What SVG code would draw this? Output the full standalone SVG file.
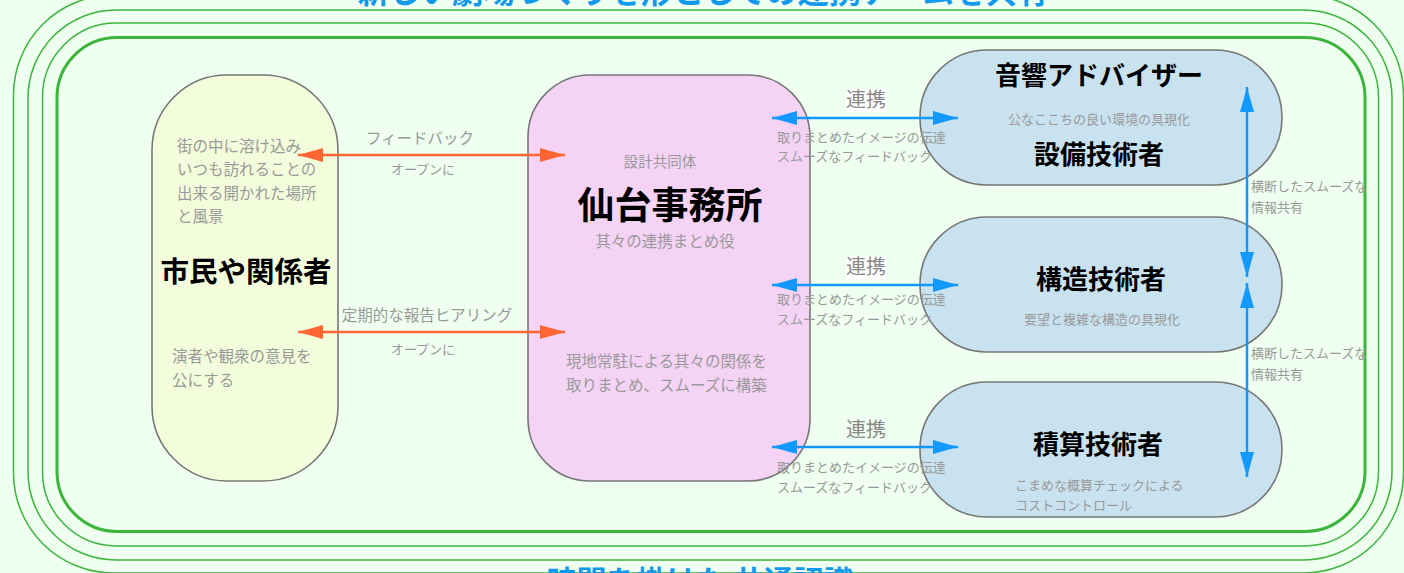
<svg xmlns="http://www.w3.org/2000/svg" width="1404" height="573" viewBox="0 0 1404 573">
<defs>
<style>
text{font-family:"Noto Sans CJK JP","Noto Sans",sans-serif;}
.frame{fill:none;stroke:#3db53d;stroke-width:1.5;}
.frameThick{fill:#effff0;stroke:#3db53d;stroke-width:3;}
.node{stroke:#777;stroke-width:1.6;}
.title{font-weight:bold;fill:#000;text-anchor:middle;}
.note{fill:#999;font-size:15.5px;}
.small{fill:#999;font-size:13px;}
.mid{text-anchor:middle;}
.big{fill:#1199ee;font-weight:bold;font-size:30px;text-anchor:middle;}
.orange{stroke:#ff6633;stroke-width:2.5;fill:none;marker-start:url(#oa);marker-end:url(#oa);}
.blue{stroke:#1199ff;stroke-width:2.5;fill:none;marker-start:url(#ba);marker-end:url(#ba);}
.link{fill:#888;font-size:20px;text-anchor:middle;}
</style>
<marker id="oa" markerUnits="userSpaceOnUse" markerWidth="26" markerHeight="16" refX="25" refY="7" orient="auto-start-reverse"><path d="M0,0 L25,7 L0,14 z" fill="#ff6633"/></marker>
<marker id="ba" markerUnits="userSpaceOnUse" markerWidth="26" markerHeight="16" refX="25" refY="7" orient="auto-start-reverse"><path d="M0,0 L25,7 L0,14 z" fill="#1199ff"/></marker>
</defs>
<rect width="1404" height="573" fill="#effff0"/>
<g id="frames">
<rect class="frame" x="13.5" y="-5" width="1390" height="578" rx="100" ry="100"/>
<rect class="frame" x="28" y="10" width="1364" height="550" rx="88" ry="88"/>
<rect class="frame" x="42.5" y="23" width="1336" height="523" rx="74" ry="74"/>
<rect class="frameThick" x="57" y="37.5" width="1308" height="494" rx="60" ry="60"/>
</g>
<text class="big" x="703" y="3" style="font-size:31.5px">新しい劇場づくりを形としての連携チームを共有</text>
<text class="big" x="700" y="592">時間を掛けた 共通認識</text>
<g id="node-citizens">
<rect class="node" x="152" y="75" width="186" height="406" rx="75" ry="75" fill="#f3fddb"/>
<text class="note" x="177" y="152">街の中に溶け込み</text>
<text class="note" x="177" y="175">いつも訪れることの</text>
<text class="note" x="177" y="199">出来る開かれた場所</text>
<text class="note" x="177" y="222">と風景</text>
<text class="title" x="246" y="282" font-size="28.5">市民や関係者</text>
<text class="note" x="172" y="362">演者や観衆の意見を</text>
<text class="note" x="172" y="386">公にする</text>
</g>
<g id="node-sendai">
<rect class="node" x="528" y="75" width="282" height="406" rx="62" ry="62" fill="#f4d3f4"/>
<text class="small mid" x="660" y="167" style="font-size:14.5px">設計共同体</text>
<text class="title" x="670" y="219" font-size="37">仙台事務所</text>
<text class="note mid" x="665" y="247">其々の連携まとめ役</text>
<text class="note" x="566" y="367">現地常駐による其々の関係を</text>
<text class="note" x="566" y="391">取りまとめ、スムーズに構築</text>
</g>
<g id="node-acoustic">
<rect class="node" x="920" y="50" width="362" height="135" rx="67" ry="67" fill="#c9e2ef"/>
<text class="title" x="1099" y="85" font-size="26">音響アドバイザー</text>
<text class="small mid" x="1099" y="124">公なここちの良い環境の具現化</text>
<text class="title" x="1099" y="164" font-size="26">設備技術者</text>
</g>
<g id="node-structure">
<rect class="node" x="920" y="217" width="362" height="135" rx="67" ry="67" fill="#c9e2ef"/>
<text class="title" x="1101" y="289" font-size="26">構造技術者</text>
<text class="small mid" x="1102" y="324">要望と複雑な構造の具現化</text>
</g>
<g id="node-cost">
<rect class="node" x="920" y="382" width="362" height="135" rx="67" ry="67" fill="#c9e2ef"/>
<text class="title" x="1098" y="454" font-size="26">積算技術者</text>
<text class="small" x="1015" y="490">こまめな概算チェックによる</text>
<text class="small" x="1015" y="510">コストコントロール</text>
</g>
<g id="connectors">
<line class="orange" x1="298" y1="155" x2="565" y2="155"/>
<line class="orange" x1="298" y1="332" x2="565" y2="332"/>
<line class="blue" x1="772" y1="118" x2="958" y2="118"/>
<line class="blue" x1="772" y1="285" x2="958" y2="285"/>
<line class="blue" x1="772" y1="447" x2="958" y2="447"/>
<line class="blue" x1="1247" y1="87" x2="1247" y2="277"/>
<line class="blue" x1="1247" y1="283" x2="1247" y2="477"/>
<text class="note mid" x="420" y="144">フィードバック</text>
<text class="small mid" x="423" y="174">オープンに</text>
<text class="note mid" x="427" y="321">定期的な報告ヒアリング</text>
<text class="small mid" x="423" y="354">オープンに</text>
<rect x="846" y="89" width="41" height="23" fill="#fff"/>
<text class="link" x="866" y="107">連携</text>
<text class="small" x="777" y="142">取りまとめたイメージの伝達</text>
<text class="small" x="777" y="161">スムーズなフィードバック</text>
<rect x="846" y="256" width="41" height="23" fill="#fff"/>
<text class="link" x="866" y="274">連携</text>
<text class="small" x="777" y="304">取りまとめたイメージの伝達</text>
<text class="small" x="777" y="324">スムーズなフィードバック</text>
<text class="link" x="866" y="437">連携</text>
<text class="small" x="777" y="472">取りまとめたイメージの伝達</text>
<text class="small" x="777" y="492">スムーズなフィードバック</text>
<text class="small" x="1251" y="191">横断したスムーズな</text>
<text class="small" x="1251" y="212">情報共有</text>
<text class="small" x="1251" y="358">横断したスムーズな</text>
<text class="small" x="1251" y="379">情報共有</text>
</g>
</svg>
